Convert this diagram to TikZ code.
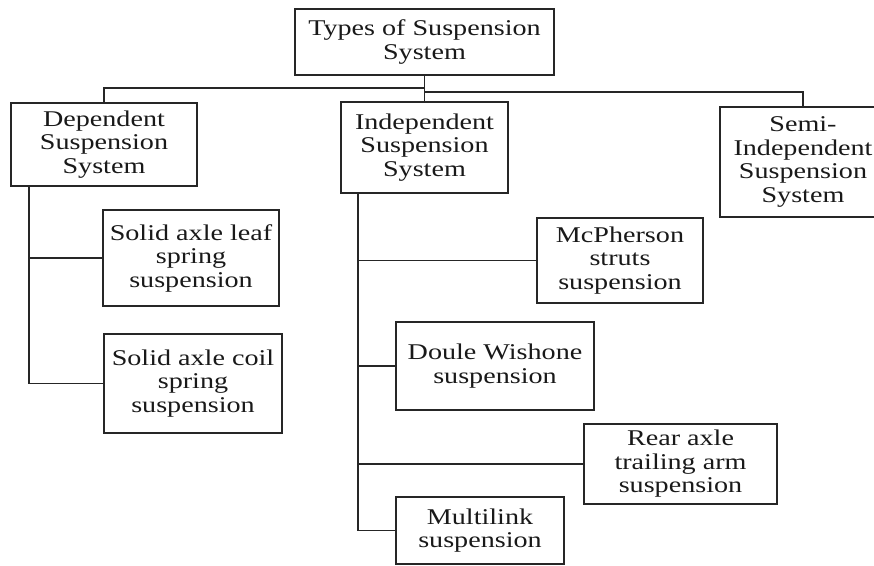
\documentclass[tikz,border=0pt]{standalone}
\usepackage{fontspec}
\setmainfont{Liberation Serif}[FakeStretch=1.25]
\begin{document}
\begin{tikzpicture}[x=1pt,y=-1pt,
  box/.style={draw=black!85, line width=1.5pt, rectangle, inner sep=0pt, align=center,
    font=\fontsize{22.5}{23.5}\selectfont, text=black!90},
  link/.style={draw=black!85, line width=1.5pt}]
\useasboundingbox[fill=white] (0,0) rectangle (874,565);
\node[box, minimum width=259pt, minimum height=66pt] (top) at (424.5,42) {Types of Suspension\\System};
\node[box, minimum width=186pt, minimum height=83pt] (dep) at (104,144.5) {Dependent\\Suspension\\System};
\node[box, minimum width=167pt, minimum height=91pt] (ind) at (424.5,147.5) {Independent\\Suspension\\System};
\node[box, minimum width=166pt, minimum height=110pt] (semi) at (803,162) {Semi-\\Independent\\Suspension\\System};
\node[box, minimum width=176pt, minimum height=96pt] (leaf) at (191,258) {Solid axle leaf\\spring\\suspension};
\node[box, minimum width=178pt, minimum height=99pt] (coil) at (193,383.5) {Solid axle coil\\spring\\suspension};
\node[box, minimum width=166pt, minimum height=85pt] (mcph) at (620,260.5) {McPherson\\struts\\suspension};
\node[box, minimum width=198pt, minimum height=88pt] (doub) at (495,366) {Doule Wishone\\suspension};
\node[box, minimum width=193pt, minimum height=80pt] (rear) at (680.5,464) {Rear axle\\trailing arm\\suspension};
\node[box, minimum width=168pt, minimum height=67pt] (multi) at (480,530.5) {Multilink\\suspension};
\coordinate (jl) at (425,88);
\coordinate (jr) at (425,92);
\coordinate (dv) at (29,186);
\coordinate (iv) at (358,193);
\draw[link] (top.south) -- (ind.north);
\draw[link] (jl) -| (dep.north);
\draw[link] (jr) -| (semi.north);
\draw[link] (dv) |- (coil.west);
\draw[link] (dv |- leaf.west) -- (leaf.west);
\draw[link] (iv) |- (multi.west);
\draw[link] (iv |- mcph.west) -- (mcph.west);
\draw[link] (iv |- doub.west) -- (doub.west);
\draw[link] (iv |- rear.west) -- (rear.west);
\end{tikzpicture}
\end{document}
